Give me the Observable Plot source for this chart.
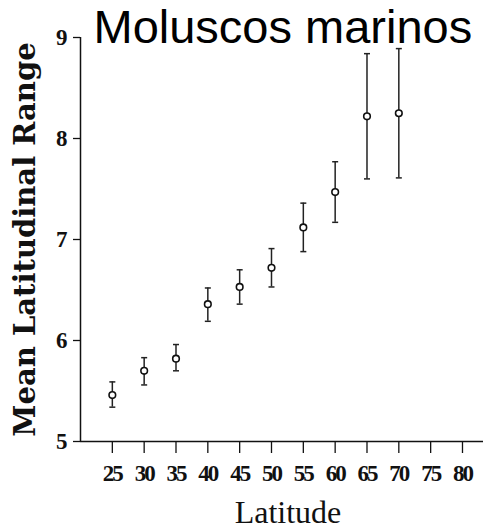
<!DOCTYPE html>
<html>
<head>
<meta charset="utf-8">
<script src="https://cdn.jsdelivr.net/npm/d3@7"></script>
<script src="https://cdn.jsdelivr.net/npm/@observablehq/plot@0.6"></script>
<style>
  html, body { margin: 0; padding: 0; background: #fff; }
  #chart svg { display: block; background: #fff; }
  g[aria-label="x-axis tick label"] text { letter-spacing: -2px; }
</style>
</head>
<body>
<div id="chart"></div>
<script>
// Data
const latitudes = [25, 30, 35, 40, 45, 50, 55, 60, 65, 70];
const meanRange = [5.46, 5.70, 5.82, 6.36, 6.53, 6.72, 7.12, 7.47, 8.22, 8.25];
const upperRange = [5.59, 5.83, 5.96, 6.52, 6.70, 6.91, 7.36, 7.77, 8.84, 8.89];
const lowerRange = [5.34, 5.56, 5.70, 6.19, 6.36, 6.53, 6.88, 7.17, 7.60, 7.61];
const xTicks = [25, 30, 35, 40, 45, 50, 55, 60, 65, 70, 75, 80];
const yTicks = [5, 6, 7, 8, 9];
const title = "Moluscos marinos";
const xLabel = "Latitude";
const yLabel = "Mean Latitudinal Range";

const data = latitudes.map((lat, i) => ({
  lat, mean: meanRange[i], hi: upperRange[i], lo: lowerRange[i]
}));

// horizontal cap symbol for error bars
const capSymbol = {
  draw(context, size) {
    const r = Math.sqrt(size / Math.PI);
    context.moveTo(-r, 0);
    context.lineTo(r, 0);
  }
};

const chart = Plot.plot({
  width: 483,
  height: 528,
  marginLeft: 80,
  marginRight: 0,
  marginTop: 37,
  marginBottom: 87,
  style: { background: "#fff", color: "#000" },
  x: { domain: [20, 83.3] },
  y: { domain: [5, 9] },
  marks: [
    Plot.ruleY([5], { stroke: "#111", strokeWidth: 1.5 }),
    Plot.ruleX([20], { y1: 5, y2: 9, stroke: "#111", strokeWidth: 1.5 }),
    Plot.axisX({
      ticks: xTicks, tickSize: 12, tickPadding: 11, label: null, tickFormat: d => String(d),
      fontSize: 23, fontWeight: "bold", fontFamily: "Liberation Serif", strokeWidth: 1.3, stroke: "#111", fill: "#111"
    }),
    Plot.axisY({
      ticks: yTicks, tickSize: 7, tickPadding: 6, label: null, tickFormat: d => String(d),
      fontSize: 23, fontWeight: "bold", fontFamily: "Liberation Serif", strokeWidth: 1.3, stroke: "#111", fill: "#111"
    }),
    Plot.ruleX(data, { x: "lat", y1: "lo", y2: "hi", stroke: "#222", strokeWidth: 1.5 }),
    Plot.dot(data, { x: "lat", y: "hi", symbol: capSymbol, r: 3, fill: "none", stroke: "#222", strokeWidth: 1.5 }),
    Plot.dot(data, { x: "lat", y: "lo", symbol: capSymbol, r: 3, fill: "none", stroke: "#222", strokeWidth: 1.5 }),
    Plot.dot(data, { x: "lat", y: "mean", r: 3.3, fill: "#fff", stroke: "#111", strokeWidth: 1.6 }),
    Plot.text([xLabel], {
      text: d => d, frameAnchor: "bottom", lineAnchor: "bottom", dx: 6, dy: 81,
      fontSize: 32, fontFamily: "Liberation Serif", fill: "#111"
    }),
    Plot.text([yLabel], {
      text: d => d, frameAnchor: "left", textAnchor: "middle", lineAnchor: "bottom", rotate: -90, dx: -46,
      fontSize: 29, fontWeight: "bold", fontFamily: "DejaVu Serif", fill: "#111"
    }),
    Plot.text([title], {
      text: d => d, frameAnchor: "top-left", textAnchor: "start", lineAnchor: "bottom", dx: 13, dy: 5,
      fontSize: 47, fontFamily: "Liberation Sans", fill: "#000"
    })
  ]
});

document.getElementById("chart").appendChild(chart);
</script>
</body>
</html>
